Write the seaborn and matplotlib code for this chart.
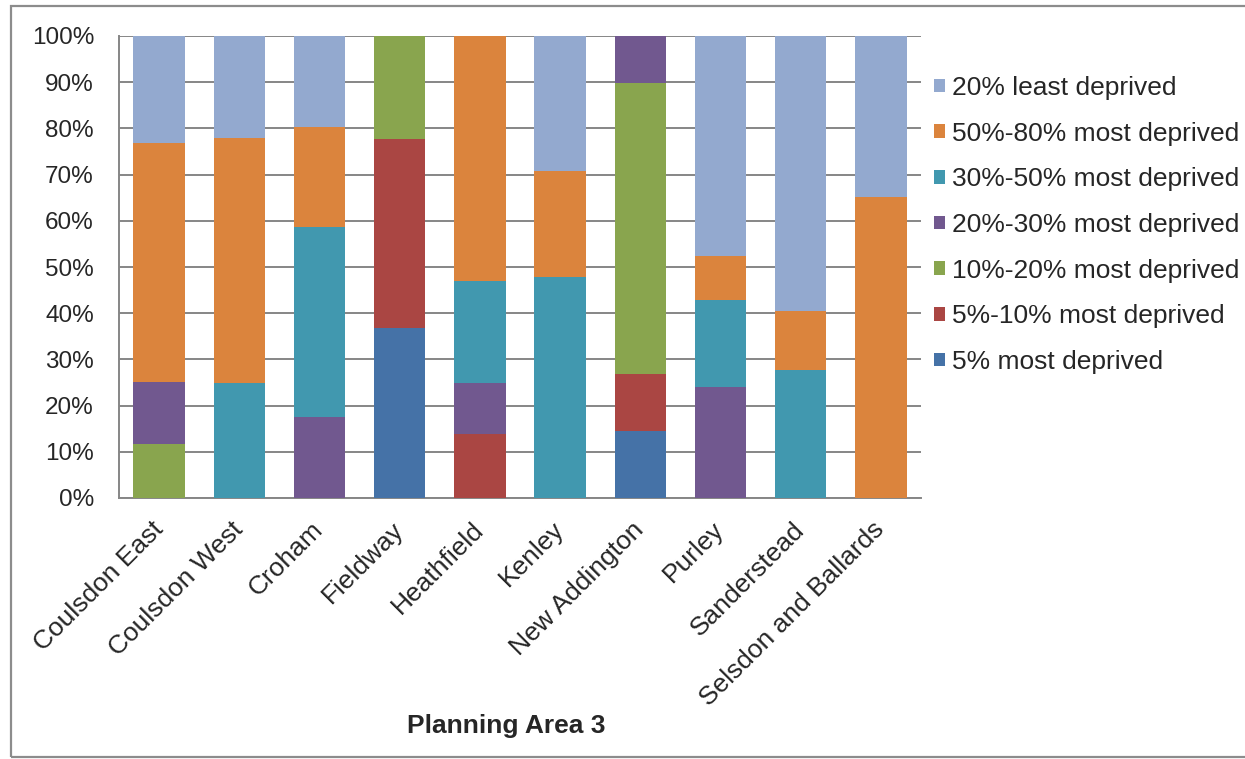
import matplotlib
matplotlib.use("Agg")
import matplotlib.pyplot as plt
import numpy as np
import seaborn as sns
from matplotlib.patches import Patch, Rectangle

# share of LSOAs (%) in each deprivation band, by ward
areas = ["Coulsdon East", "Coulsdon West", "Croham", "Fieldway", "Heathfield",
         "Kenley", "New Addington", "Purley", "Sanderstead", "Selsdon and Ballards"]
most_5 = [0, 0, 0, 36.8, 0, 0, 14.4, 0, 0, 0]
most_5_10 = [0, 0, 0, 40.9, 13.9, 0, 12.5, 0, 0, 0]
most_10_20 = [11.7, 0, 0, 22.3, 0, 0, 63.0, 0, 0, 0]
most_20_30 = [13.5, 0, 17.5, 0, 11.0, 0, 10.1, 24.1, 0, 0]
most_30_50 = [0, 24.9, 41.1, 0, 22.1, 47.9, 0, 18.8, 27.8, 0]
most_50_80 = [51.6, 53.1, 21.6, 0, 53.0, 22.8, 0, 9.4, 12.6, 65.2]
least_20 = [23.2, 22.0, 19.8, 0, 0, 29.3, 0, 47.7, 59.6, 34.8]

band_labels = ["5% most deprived", "5%-10% most deprived", "10%-20% most deprived",
               "20%-30% most deprived", "30%-50% most deprived", "50%-80% most deprived",
               "20% least deprived"]
band_colors = ["#4572A7", "#AA4643", "#89A54E", "#71588F", "#4198AF", "#DB843D", "#93A9CF"]
bands = [most_5, most_5_10, most_10_20, most_20_30, most_30_50, most_50_80, least_20]

sns.set_style("white")
plt.rcParams["font.family"] = ["Liberation Sans", "DejaVu Sans"]
FS = 19

W, H = 1245, 759
fig = plt.figure(figsize=(W / 100, H / 100), dpi=100)
ax = fig.add_axes([119 / W, 1 - 498 / H, (921 - 119) / W, (498 - 36) / H])

# outer chart frame (right edge runs off the picture)
fig.add_artist(Rectangle((11 / W, 1 - 757 / H), 1.2, (757 - 6) / H,
                         transform=fig.transFigure, fill=False,
                         edgecolor="#8c8c8c", lw=1.6, zorder=0))

# stack the bands bottom-up, most deprived first
bottom = np.zeros(len(areas))
for vals, col in zip(bands, band_colors):
    sns.barplot(x=areas, y=vals, bottom=bottom, color=col, width=0.64,
                saturation=1, linewidth=0, edgecolor="none", ax=ax, zorder=3)
    bottom += np.array(vals)

ax.set_xlim(-0.5, 9.5)
ax.set_ylim(0, 100)
ax.set_yticks(range(0, 101, 10))
ax.set_yticklabels([f"{v}%" for v in range(0, 101, 10)], fontsize=17.5)
ax.yaxis.grid(True, color="#868686", lw=1.4, zorder=0)
ax.set_axisbelow(True)
for s in ["top", "right"]:
    ax.spines[s].set_visible(False)
for s in ["left", "bottom"]:
    ax.spines[s].set_color("#868686")
    ax.spines[s].set_linewidth(1.4)
ax.tick_params(axis="y", length=0, pad=18)
ax.tick_params(axis="x", length=0, pad=20)
ax.set_xticks(range(len(areas)))
ax.set_xticklabels(areas, rotation=45, ha="right", va="center",
                   rotation_mode="anchor", fontsize=FS)
ax.set_xlabel("")
ax.set_ylabel("")

fig.text(506 / W, 1 - 726 / H, "Planning Area 3", ha="center", va="center",
         fontsize=FS, fontweight="bold")

handles = [Patch(facecolor=c, edgecolor="none") for c in band_colors][::-1]
fig.legend(handles, band_labels[::-1], loc="upper left",
           bbox_to_anchor=(934 / W, 1 - 76 / H), frameon=False, fontsize=FS,
           handlelength=0.42, handleheight=0.42, handletextpad=0.25,
           labelspacing=0.82, borderpad=0, borderaxespad=0)

fig.savefig("out.png", dpi=100)
